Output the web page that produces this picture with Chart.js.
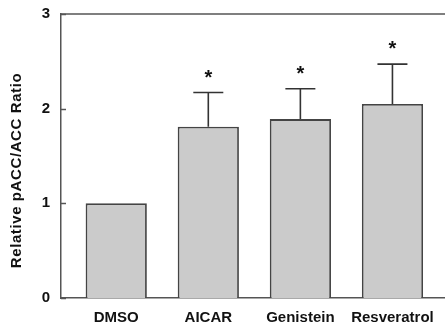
<!DOCTYPE html>
<html>
<head>
<meta charset="utf-8">
<script src="https://cdn.jsdelivr.net/npm/chart.js@4"></script>
<style>
  html,body{margin:0;padding:0;background:#fff;overflow:hidden;}
  #wrap{width:445px;height:326px;position:relative;}
</style>
</head>
<body>
<div id="wrap"><canvas id="c" width="445" height="326"></canvas></div>
<script>
const categories = ['DMSO', 'AICAR', 'Genistein', 'Resveratrol'];
const means = [1.00, 1.81, 1.89, 2.05];
const errors = [0, 0.36, 0.32, 0.42];
const starred = [false, true, true, true];
const yTicks = [0, 1, 2, 3];
const yTitle = 'Relative pACC/ACC Ratio';

const FONT = "'Liberation Sans', Arial, sans-serif";
const AXIS = '#555';

const decor = {
  id: 'decor',
  afterDatasetsDraw(chart){
    const {ctx, chartArea:a, scales:{x, y}} = chart;
    ctx.save();
    // top frame line and inward ticks
    ctx.strokeStyle = AXIS; ctx.lineWidth = 1.5;
    ctx.beginPath(); ctx.moveTo(a.left, a.top); ctx.lineTo(a.right + 2, a.top); ctx.stroke();
    yTicks.forEach(t => {
      const py = Math.round(y.getPixelForValue(t)) + 0.5;
      ctx.beginPath(); ctx.moveTo(a.left, py); ctx.lineTo(a.left + 5, py); ctx.stroke();
    });
    // error bars + asterisks
    ctx.strokeStyle = '#333'; ctx.lineWidth = 1.6;
    means.forEach((m, i) => {
      if (!errors[i]) return;
      const px = x.getPixelForValue(i);
      const top = y.getPixelForValue(m + errors[i]);
      const bot = y.getPixelForValue(m);
      ctx.beginPath();
      ctx.moveTo(px, bot); ctx.lineTo(px, top);
      ctx.moveTo(px - 15, top); ctx.lineTo(px + 15, top);
      ctx.stroke();
      if (starred[i]) {
        ctx.fillStyle = '#111';
        ctx.font = 'bold 20px ' + FONT;
        ctx.textAlign = 'center'; ctx.textBaseline = 'alphabetic';
        ctx.fillText('*', px, top - 18 + 9);
      }
    });
    // y axis title
    ctx.translate(17, 170.5); ctx.rotate(-Math.PI / 2);
    ctx.fillStyle = '#111';
    ctx.font = 'bold 15px ' + FONT;
    ctx.letterSpacing = '0.6px';
    ctx.textAlign = 'center'; ctx.textBaseline = 'middle';
    ctx.fillText(yTitle, 0, 0);
    ctx.restore();
  }
};

const noPad = s => { s.paddingTop = 0; s.paddingBottom = 0; s.paddingLeft = 0; s.paddingRight = 0; };

new Chart(document.getElementById('c'), {
  type: 'bar',
  data: {
    datasets: [{
      data: means.map((v, i) => ({x: i, y: v})),
      backgroundColor: '#cbcbcb',
      borderColor: '#444',
      borderWidth: 1.8,
      categoryPercentage: 1,
      barPercentage: 0.665
    }]
  },
  options: {
    responsive: false,
    animation: false,
    layout: {padding: {top: 14, right: 1, left: 0, bottom: 0}},
    plugins: {legend: {display: false}, tooltip: {enabled: false}},
    scales: {
      x: {
        type: 'linear', min: -0.6, max: 3.56, offset: false,
        afterBuildTicks: s => { s.ticks = categories.map((c, i) => ({value: i})); },
        afterFit: s => { s.height = 28; noPad(s); },
        grid: {display: false, drawTicks: false},
        border: {display: true, color: AXIS, width: 1.5},
        ticks: {
          callback: v => categories[v],
          color: '#111', padding: 11, maxRotation: 0, autoSkip: false,
          font: {family: FONT, size: 15, weight: 'bold'}
        }
      },
      y: {
        min: 0, max: 3,
        afterBuildTicks: s => { s.ticks = yTicks.map(v => ({value: v})); },
        afterFit: s => { s.width = 61; noPad(s); },
        grid: {display: false, drawTicks: false},
        border: {display: true, color: AXIS, width: 1.5},
        ticks: {
          color: '#111', padding: 11,
          font: {family: FONT, size: 15, weight: 'bold'}
        }
      }
    }
  },
  plugins: [decor]
});
</script>
</body>
</html>
